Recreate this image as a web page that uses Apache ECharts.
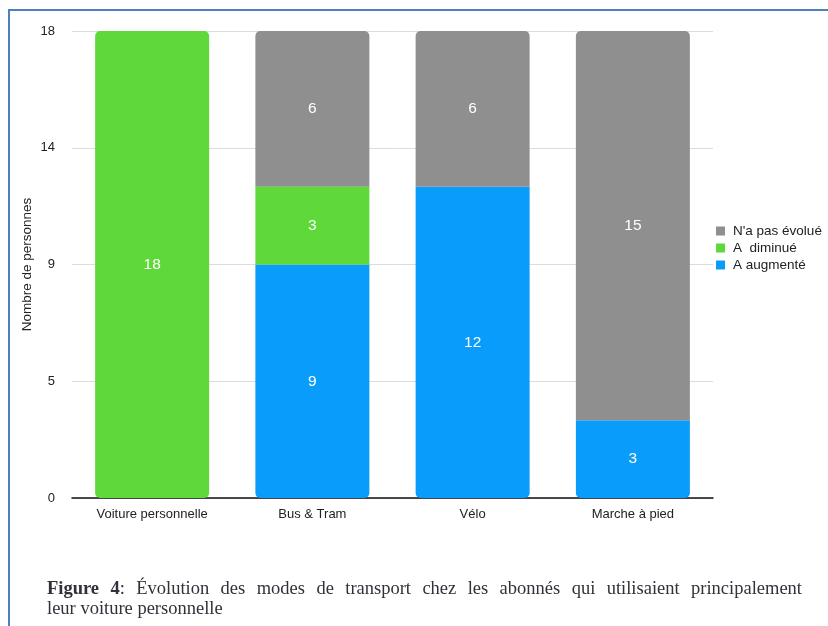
<!DOCTYPE html>
<html>
<head>
<meta charset="utf-8">
<script src="https://cdn.jsdelivr.net/npm/echarts@6/dist/echarts.min.js"></script>
<style>
  html, body { margin: 0; padding: 0; background: #fff; }
  #wrap { position: relative; width: 828px; height: 626px; overflow: hidden; }
  #chart { position: absolute; left: 0; top: 0; width: 828px; height: 626px; }
  #caption {
    position: absolute; left: 47px; top: 578px; width: 755px;
    font-family: "Liberation Serif", "Times New Roman", serif;
    font-size: 18.5px; line-height: 20px; color: #2f3238;
  }
  #caption .l1 { text-align: justify; text-align-last: justify; white-space: nowrap; }
</style>
</head>
<body>
<div id="wrap">
  <div id="chart"></div>
  <div id="caption">
    <div class="l1"><b>Figure 4</b>: Évolution des modes de transport chez les abonnés qui utilisaient principalement</div>
    <div>leur voiture personnelle</div>
  </div>
</div>
<script>
// Transport modes and how their use changed (number of people)
const categories = ['Voiture personnelle', 'Bus & Tram', 'Vélo', 'Marche à pied'];
const augmente = [0, 9, 12, 3];     // A augmenté
const diminue = [18, 3, 0, 0];      // A diminué
const inchange = [0, 6, 6, 15];     // N'a pas évolué

const seriesDefs = [
  { name: 'A augmenté', data: augmente, color: '#0A9CFB' },
  { name: 'A  diminué', data: diminue, color: '#5FD93A' },
  { name: "N'a pas évolué", data: inchange, color: '#8F8F8F' }
];

const R = 5;
// round only the outer ends of each stacked column
function shaped(idx) {
  return seriesDefs[idx].data.map((v, c) => {
    const nonZero = seriesDefs.map((s, k) => s.data[c] > 0 ? k : -1).filter(k => k >= 0);
    const lowest = nonZero[0], highest = nonZero[nonZero.length - 1];
    const top = idx === highest ? R : 0;
    const bottom = idx === lowest ? R : 0;
    return { value: v, itemStyle: { borderRadius: [top, top, bottom, bottom] } };
  });
}

const chart = echarts.init(document.getElementById('chart'));
chart.setOption({
  animation: false,
  textStyle: { fontFamily: 'Liberation Sans, Arial, sans-serif' },
  graphic: [{
    type: 'rect',
    shape: { x: 9, y: 10, width: 840, height: 640 },
    style: { fill: 'none', stroke: '#4F7FC0', lineWidth: 2 },
    silent: true
  }],
  grid: { left: 72, right: 115, top: 31, bottom: 128 },
  legend: {
    orient: 'vertical',
    left: 716, top: 224, padding: 0,
    icon: 'rect', itemWidth: 9, itemHeight: 9, itemGap: 3,
    data: ["N'a pas évolué", 'A  diminué', 'A augmenté'],
    textStyle: { fontSize: 13.5, lineHeight: 14, color: '#222', padding: [0, 0, 0, 3] }
  },
  xAxis: {
    type: 'category',
    data: categories,
    axisLine: { lineStyle: { color: '#111', width: 1.5 } },
    axisTick: { show: false },
    axisLabel: { fontSize: 13, color: '#222', margin: 10 }
  },
  yAxis: {
    type: 'value',
    min: 0, max: 18, interval: 4.5,
    name: 'Nombre de personnes',
    nameLocation: 'middle', nameRotate: 90, nameGap: 38,
    nameMoveOverlap: false,
    nameTextStyle: { fontSize: 13.5, color: '#222' },
    axisLine: { show: false },
    axisTick: { show: false },
    axisLabel: { fontSize: 13, color: '#222', margin: 17, formatter: v => String(Math.round(v)) },
    splitLine: { lineStyle: { color: '#dcdcdc', width: 1 } }
  },
  series: seriesDefs.map((s, i) => ({
    name: s.name,
    type: 'bar',
    stack: 'total',
    barWidth: 114,
    data: shaped(i),
    itemStyle: { color: s.color },
    label: {
      show: true, position: 'inside', color: '#fff', fontSize: 15.5,
      formatter: p => p.value > 0 ? String(p.value) : ''
    }
  }))
});
</script>
</body>
</html>
